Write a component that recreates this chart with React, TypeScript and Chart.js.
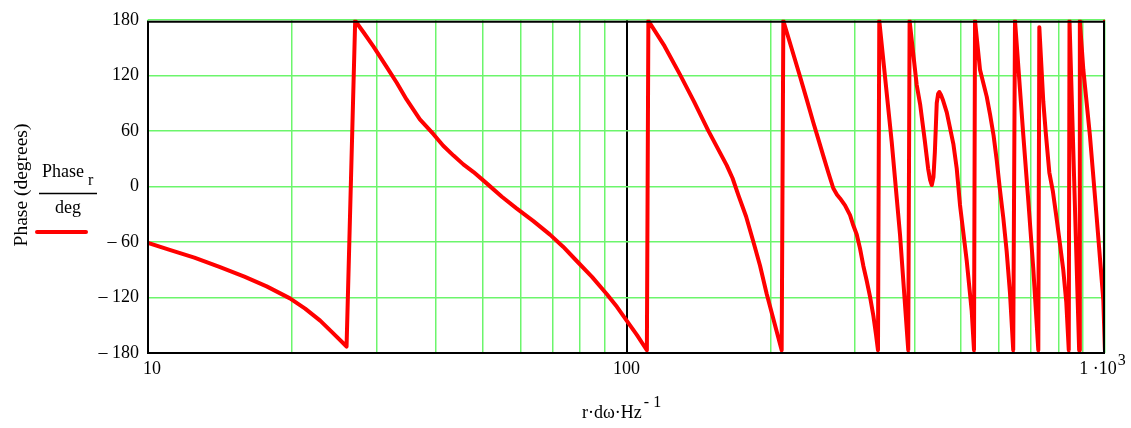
import React, { useEffect, useRef } from 'react';
import { Chart, registerables } from 'chart.js';

Chart.register(...registerables);

// Frequency (x) and phase (y, degrees), segment by segment
const freqHz = [
  10, 11.1, 12.5, 14.1, 15.9, 17.7, 19.8, 21.3, 22.9, 24.3, 26.0,
  27.1, 28.3, 29.6, 31.5, 33.1, 34.7, 37.0, 39.5, 41.4, 43.5, 45.6, 47.9, 51.1, 54.9, 58.9, 63.8, 69.2, 73.7, 78.7, 84.7, 90.9, 95.5, 100, 105.2, 110.3,
  111.1, 120.1, 129.3, 138.4, 148.3, 154.9, 162, 166.6, 171.3, 177.8, 184, 190.1, 196.3, 203.4, 211,
  212.7, 230.4, 238.0, 245.7, 251.7, 257.8, 264.1, 270.5, 275.4, 279.5, 286.2, 293.2, 297.8, 302.8, 307.6, 312.6, 317.7, 322.8, 328.1, 332.2, 335.4,
  337.5, 358.4, 372.9, 388,
  390.5, 404, 411, 420, 427, 431, 434.5, 438, 441, 445, 448, 450.5, 454, 458, 467, 482, 490, 497.7, 514, 526.6, 532.4,
  535, 548, 566, 575, 585, 594, 603, 613, 623, 633, 643,
  648.5, 675, 691.5, 708, 725.5,
  729, 743, 752, 765, 778, 792, 805, 818, 830, 840,
  843, 883,
  886, 901, 930, 961, 992, 999.5, 1000,
];

const phaseDeg = [
  -61, -68.5, -77, -87, -97.5, -108, -121, -132, -145, -158, -173,
  179, 165.5, 151, 129.5, 112, 94, 72.5, 56.4, 43.9, 33.3, 23.8, 15.5, 3, -11.2, -23.7, -37.2, -52.1, -65.1, -80.6, -97.7, -116.2, -130.1, -144.7, -160.7, -177,
  179, 151.5, 121, 91.6, 60, 41.6, 22.7, 8.8, -9.4, -32.5, -59.3, -85.4, -116, -146, -177,
  179, 119, 94, 69, 51, 33, 15, -2, -9, -13, -20.5, -31, -42, -52, -67, -86, -102, -119, -140, -160, -177,
  179, 47.5, -52, -177,
  179, 110, 88, 50, 19, 7, 1.5, 10, 37, 90, 100, 102, 99, 94, 80, 46, 19, -20, -80, -135, -177,
  179, 126, 97, 78, 55, 28, -3, -34, -70, -115, -177,
  179, 55, -16, -88, -177,
  172, 92, 58, 15, -5, -34, -62, -90, -125, -177,
  179, -177,
  179, 126, 55, -34, -123, -177, 179,
];

const xGridValues = [10, 20, 30, 40, 50, 60, 70, 80, 90, 100, 200, 300, 400, 500, 600, 700, 800, 900, 1000];
const xLabelValues = [10, 100, 1000];
const yTickValues = [-180, -120, -60, 0, 60, 120, 180];
const yTickLabels = ['\u2013 180', '\u2013 120', '\u2013 60', '0', '60', '120', '180'];

const yAxisTitle = 'Phase (degrees)';
const xAxisTitle = 'r\u00B7d\u03C9\u00B7Hz';
const xAxisTitleSup = '- 1';
const legendNum = 'Phase';
const legendSub = 'r';
const legendDen = 'deg';

const GREEN = '#6cf56c';
const RED = '#ff0000';
const FONT = "'Liberation Serif', 'Times New Roman', serif";

export default function App() {
  const canvasRef = useRef<HTMLCanvasElement | null>(null);

  useEffect(() => {
    document.body.style.margin = '0';
    const canvas = canvasRef.current;
    if (!canvas) return;

    const framePlugin = {
      id: 'frame',
      afterDatasetsDraw(chart: any) {
        const { ctx, chartArea } = chart;
        const { left, right, top, bottom } = chartArea;
        ctx.save();
        ctx.strokeStyle = '#000';
        ctx.lineWidth = 2;
        ctx.beginPath();
        ctx.moveTo(left, top + 2);
        ctx.lineTo(right - 1, top + 2);
        ctx.lineTo(right - 1, bottom);
        ctx.lineTo(left, bottom);
        ctx.closePath();
        ctx.stroke();
        ctx.restore();
      },
    };

    const textPlugin = {
      id: 'texts',
      afterDraw(chart: any) {
        const { ctx } = chart;
        const xs = chart.scales.x;
        ctx.save();
        ctx.fillStyle = '#000';
        ctx.textBaseline = 'alphabetic';

        // x tick labels
        const mainFont = `18px ${FONT}`;
        const supFont = `16px ${FONT}`;
        xLabelValues.forEach((v) => {
          const px = xs.getPixelForValue(v);
          if (v === 1000) {
            ctx.font = mainFont;
            const a = '1 \u00B710';
            const wa = ctx.measureText(a).width;
            ctx.font = supFont;
            const wb = ctx.measureText('3').width;
            const start = px - (wa + wb) / 2 - 3;
            ctx.font = mainFont;
            ctx.textAlign = 'left';
            ctx.fillText(a, start, 374);
            ctx.font = supFont;
            ctx.fillText('3', start + wa + 1, 365);
          } else {
            ctx.font = mainFont;
            ctx.textAlign = 'center';
            ctx.fillText(String(v), px + (v === 10 ? 4 : 0), 374);
          }
        });

        // x axis title
        ctx.font = mainFont;
        ctx.textAlign = 'left';
        ctx.fillText(xAxisTitle, 582, 418);
        const wt = ctx.measureText(xAxisTitle).width;
        ctx.font = supFont;
        ctx.fillText(xAxisTitleSup, 582 + wt + 2, 407);

        // y axis title (rotated)
        ctx.save();
        ctx.translate(27, 185);
        ctx.rotate(-Math.PI / 2);
        ctx.font = `19.5px ${FONT}`;
        ctx.textAlign = 'center';
        ctx.fillText(yAxisTitle, 0, 0);
        ctx.restore();

        // legend: fraction Phase_r / deg
        ctx.font = mainFont;
        ctx.textAlign = 'left';
        ctx.fillText(legendNum, 42, 177);
        const wn = ctx.measureText(legendNum).width;
        ctx.font = supFont;
        ctx.fillText(legendSub, 42 + wn + 4, 185);
        ctx.strokeStyle = '#000';
        ctx.lineWidth = 1.5;
        ctx.beginPath();
        ctx.moveTo(39, 193.5);
        ctx.lineTo(97, 193.5);
        ctx.stroke();
        ctx.font = mainFont;
        ctx.textAlign = 'center';
        ctx.fillText(legendDen, 68, 213);

        // legend line sample
        ctx.strokeStyle = RED;
        ctx.lineWidth = 4;
        ctx.lineCap = 'round';
        ctx.beginPath();
        ctx.moveTo(37, 232);
        ctx.lineTo(86, 232);
        ctx.stroke();

        ctx.restore();
      },
    };

    const points = freqHz.map((f, i) => ({ x: f, y: phaseDeg[i] }));

    const chart = new Chart(canvas, {
      type: 'line',
      data: {
        datasets: [
          {
            data: points,
            borderColor: RED,
            borderWidth: 4,
            pointRadius: 0,
            tension: 0,
            fill: false,
            borderJoinStyle: 'round',
            borderCapStyle: 'round',
          } as any,
        ],
      },
      options: {
        responsive: false,
        animation: false,
        events: [],
        layout: { padding: { left: 0, top: 16, right: 26, bottom: 0 } },
        plugins: {
          legend: { display: false },
          tooltip: { enabled: false },
          title: { display: false },
        },
        scales: {
          x: {
            type: 'logarithmic',
            min: 10,
            max: 1000,
            afterBuildTicks: (scale: any) => {
              scale.ticks = xGridValues.map((v) => ({ value: v }));
            },
            afterFit: (scale: any) => {
              scale.height = 75;
            },
            ticks: { display: false },
            border: { display: false },
            grid: {
              drawTicks: false,
              color: (c: any) => (c.tick && c.tick.value === 100 ? '#000' : GREEN),
              lineWidth: (c: any) => (c.tick && c.tick.value === 100 ? 2 : 1.5),
            },
          },
          y: {
            type: 'linear',
            min: -180,
            max: 180,
            afterBuildTicks: (scale: any) => {
              scale.ticks = yTickValues.map((v) => ({ value: v }));
            },
            afterFit: (scale: any) => {
              scale.width = 148;
            },
            ticks: {
              color: '#000',
              padding: 9,
              font: { family: FONT, size: 18 },
              callback: (_v: any, i: number) => yTickLabels[i],
            },
            border: { display: false },
            grid: {
              drawTicks: false,
              color: GREEN,
              lineWidth: 1.5,
            },
          },
        },
      },
      plugins: [framePlugin, textPlugin],
    });

    return () => {
      chart.destroy();
    };
  }, []);

  return (
    <div style={{ width: 1131, height: 428, background: '#fff' }}>
      <canvas ref={canvasRef} width={1131} height={428} style={{ display: 'block' }} />
    </div>
  );
}
